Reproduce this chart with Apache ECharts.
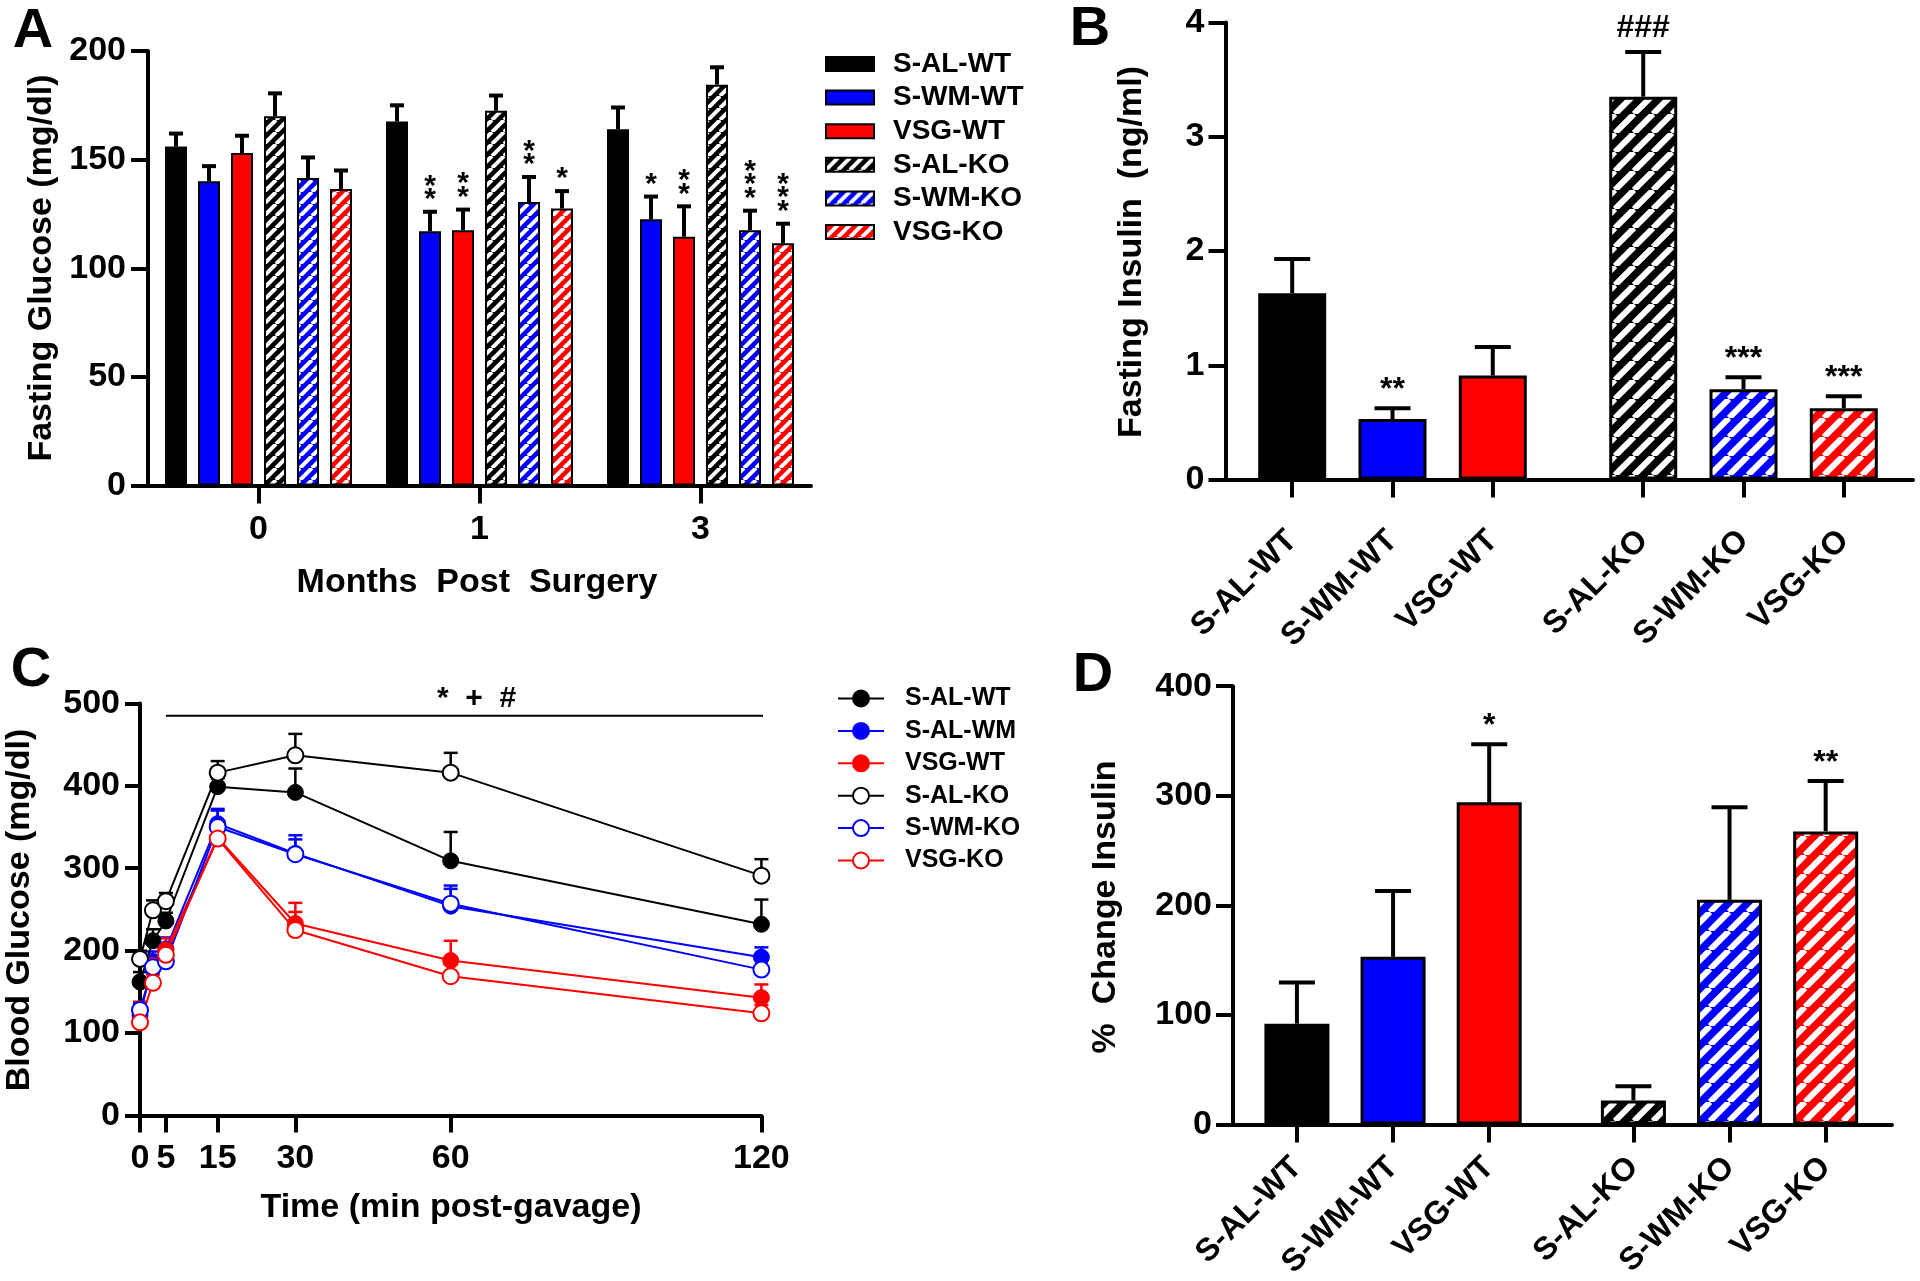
<!DOCTYPE html>
<html>
<head>
<meta charset="utf-8">
<title>Glucose / insulin panels</title>
<script src="https://cdn.jsdelivr.net/npm/echarts@6/dist/echarts.min.js"></script>
<style>
html, body { margin: 0; padding: 0; background: #fff; }
.panel { position: absolute; left: 0; top: 0; width: 1920px; height: 1281px; }
</style>
</head>
<body>
<div id="pa" class="panel"></div>
<div id="pb" class="panel"></div>
<div id="pc" class="panel"></div>
<div id="pd" class="panel"></div>
<script>
// ---- A: fasting glucose (mg/dl) by months post surgery
var months = ['0', '1', '3'];
var groupNames = ['S-AL-WT', 'S-WM-WT', 'VSG-WT', 'S-AL-KO', 'S-WM-KO', 'VSG-KO'];
var glcSalWt = [156, 167.5, 164];
var glcSwmWt = [140, 117, 122.5];
var glcVsgWt = [153, 117.5, 114.5];
var glcSalKo = [170, 172.5, 184.5];
var glcSwmKo = [141.5, 130.5, 117.5];
var glcVsgKo = [136.5, 127.5, 111.5];
var glcErrSalWt = [6, 7.5, 10];
var glcErrSwmWt = [7, 9, 10.5];
var glcErrVsgWt = [8, 9.5, 14];
var glcErrSalKo = [10.5, 7, 8];
var glcErrSwmKo = [9.5, 11.5, 9];
var glcErrVsgKo = [8.5, 8, 9];
var glcStarsSwmWt = ['', '**', '*'];
var glcStarsVsgWt = ['', '**', '**'];
var glcStarsSwmKo = ['', '**', '***'];
var glcStarsVsgKo = ['', '*', '***'];

// ---- B: fasting insulin (ng/ml)
var insulin = [1.63, 0.53, 0.91, 3.35, 0.79, 0.625];
var insulinErr = [0.30, 0.095, 0.25, 0.39, 0.105, 0.105];
var insulinMarks = ['', '**', '', '###', '***', '***'];

// ---- C: blood glucose (mg/dl) over time
var times = [0, 2.5, 5, 15, 30, 60, 120];
var timeTicks = [0, 5, 15, 30, 60, 120];
var lineNames = ['S-AL-WT', 'S-AL-WM', 'VSG-WT', 'S-AL-KO', 'S-WM-KO', 'VSG-KO'];
var bgSalWt = [162, 212, 236, 399, 392, 309, 232];
var bgSalWm = [121, 187, 202, 354, 318, 254, 192];
var bgVsgWt = [127, 182, 201, 337, 233, 188, 143];
var bgSalKo = [190, 249, 260, 416, 437, 416, 291];
var bgSwmKo = [128, 180, 187, 350, 317, 257, 177];
var bgVsgKo = [113, 161, 195, 336, 225, 169, 124];
var bgErrSalWt = [12, 14, 10, 10, 29, 35, 30];
var bgErrSalWm = [10, 12, 14, 18, 22, 25, 12];
var bgErrVsgWt = [11, 12, 14, 20, 25, 24, 16];
var bgErrSalKo = [10, 12, 10, 14, 26, 24, 20];
var bgErrSwmKo = [8, 10, 12, 20, 18, 18, 12];
var bgErrVsgKo = [9, 10, 12, 18, 22, 14, 10];
// significance bar over the curves (time span, level)
var sigSpan = [5, 65, 122.7];
var sigLevel = 485;
var sigText = '*  +  #';

// ---- D: % change insulin
var pctChange = [92, 153, 294, 22, 205, 267.5];
var pctChangeErr = [37.5, 60, 53, 13, 84.5, 46];
var pctMarks = ['', '', '*', '', '', '**'];

// layout: x slot of each bar in B and D (gap between WT and KO groups)
var slotX = [0, 1, 2, 3.5, 4.5, 5.5];

var FONT = "'Liberation Sans', Arial, sans-serif";
var BLACK = '#000000', BLUE = '#0000ff', RED = '#ff0000';

function hatch(color, size, stripe) {
  var c = document.createElement('canvas');
  c.width = size; c.height = size;
  var g = c.getContext('2d');
  g.fillStyle = color;
  g.fillRect(0, 0, size, size);
  g.strokeStyle = '#ffffff';
  g.lineWidth = stripe;
  g.beginPath();
  for (var k = -1; k <= 1; k++) {
    g.moveTo(k * size, size);
    g.lineTo(k * size + size, 0);
  }
  g.stroke();
  return { image: c, repeat: 'repeat' };
}

function txt(x, y, text, size, rot) {
  return {
    type: 'text', x: x, y: y, rotation: rot || 0,
    style: { text: text, fontFamily: FONT, fontWeight: 'bold', fontSize: size, fill: '#000', align: 'center', verticalAlign: 'middle' }
  };
}

function axisBase() {
  return {
    axisLine: { show: true, onZero: false, lineStyle: { color: '#000', width: 4 } },
    axisTick: { show: true, length: 17, lineStyle: { color: '#000', width: 4 } },
    axisLabel: { color: '#000', fontFamily: FONT, fontWeight: 'bold', fontSize: 34 },
    splitLine: { show: false }
  };
}

function merge(a, b) {
  for (var k in b) {
    if (b[k] && typeof b[k] === 'object' && !Array.isArray(b[k]) && a[k]) merge(a[k], b[k]);
    else a[k] = b[k];
  }
  return a;
}

// ================= A =================
var glcMeans = [glcSalWt, glcSwmWt, glcVsgWt, glcSalKo, glcSwmKo, glcVsgKo];
var glcErrs = [glcErrSalWt, glcErrSwmWt, glcErrVsgWt, glcErrSalKo, glcErrSwmKo, glcErrVsgKo];
var glcStars = [['', '', ''], glcStarsSwmWt, glcStarsVsgWt, ['', '', ''], glcStarsSwmKo, glcStarsVsgKo];
var fillA = [BLACK, BLUE, RED, hatch(BLACK, 12, 4), hatch(BLUE, 12, 4), hatch(RED, 12, 4)];
var barStepA = 33;

function errA(i) {
  return function (params, api) {
    var x = api.coord([api.value(0), 0])[0] + (i - 2.5) * barStepA;
    var y0 = api.coord([api.value(0), api.value(1)])[1];
    var y1 = api.coord([api.value(0), api.value(2)])[1];
    var kids = [
      { type: 'line', shape: { x1: x, y1: y0, x2: x, y2: y1 }, style: { stroke: '#000', lineWidth: 4 } },
      { type: 'line', shape: { x1: x - 7, y1: y1, x2: x + 7, y2: y1 }, style: { stroke: '#000', lineWidth: 4 } }
    ];
    var s = glcStars[i][params.dataIndex];
    for (var k = 0; k < s.length; k++) {
      kids.push({
        type: 'text', x: x, y: y1 - 19 - k * 13.5 + 7,
        style: { text: '*', fontFamily: FONT, fontWeight: 'bold', fontSize: 30, fill: '#000', align: 'center', verticalAlign: 'middle' }
      });
    }
    return { type: 'group', children: kids };
  };
}

var seriesA = [];
groupNames.forEach(function (name, i) {
  seriesA.push({
    type: 'bar', name: name, data: glcMeans[i], barWidth: 22, barGap: '50%', z: 2,
    itemStyle: { color: fillA[i], borderColor: '#000', borderWidth: 2 }
  });
});
groupNames.forEach(function (name, i) {
  seriesA.push({
    type: 'custom', z: 3, silent: true,
    data: glcMeans[i].map(function (m, j) { return [j, m, m + glcErrs[i][j]]; }),
    renderItem: errA(i)
  });
});

var optionA = {
  animation: false,
  grid: { left: 148, top: 51, width: 663, height: 434.5, outerBoundsMode: 'none' },
  xAxis: merge(axisBase(), {
    type: 'category', data: months,
    axisTick: { alignWithLabel: true, length: 18 },
    axisLabel: { margin: 27 }
  }),
  yAxis: merge(axisBase(), {
    type: 'value', min: 0, max: 200, interval: 50,
    axisLabel: { margin: 22 }
  }),
  legend: {
    orient: 'vertical', left: 820, top: 45, icon: 'rect',
    itemWidth: 48, itemHeight: 14, itemGap: 5.6, selectedMode: false,
    data: groupNames,
    textStyle: { color: '#000', fontFamily: FONT, fontWeight: 'bold', fontSize: 28, lineHeight: 28, padding: [0, 0, 0, 14] }
  },
  graphic: [
    txt(33, 32, 'A', 56),
    txt(42, 268, 'Fasting Glucose (mg/dl)', 34, Math.PI / 2),
    txt(477, 583, 'Months  Post  Surgery', 34)
  ],
  series: seriesA
};

// ================= B and D =================
var fillBD = [BLACK, BLUE, RED, hatch(BLACK, 19, 6), hatch(BLUE, 19, 6), hatch(RED, 19, 6)];

function barPanel(means, errs, marks, grid, yMax, yInt, barW, labelMargin, graphic) {
  grid.outerBoundsMode = 'none';
  return {
    animation: false,
    grid: grid,
    xAxis: merge(axisBase(), {
      type: 'value', min: -0.665, max: 6.19,
      axisTick: { customValues: slotX, length: 18 },
      axisLabel: {
        customValues: slotX, rotate: 45, fontSize: 32, margin: labelMargin,
        formatter: function (v) { return groupNames[slotX.indexOf(v)] || ''; }
      }
    }),
    yAxis: merge(axisBase(), {
      type: 'value', min: 0, max: yMax, interval: yInt,
      axisLabel: { margin: 21 }
    }),
    graphic: graphic,
    series: [
      {
        type: 'bar', barWidth: barW, z: 2,
        itemStyle: { borderColor: '#000', borderWidth: 3 },
        data: slotX.map(function (x, i) {
          return { value: [x, means[i]], itemStyle: { color: fillBD[i] } };
        })
      },
      {
        type: 'custom', z: 3, silent: true,
        data: slotX.map(function (x, i) { return [x, means[i], means[i] + errs[i]]; }),
        renderItem: function (params, api) {
          var p0 = api.coord([api.value(0), api.value(1)]);
          var p1 = api.coord([api.value(0), api.value(2)]);
          var x = p0[0];
          var kids = [
            { type: 'line', shape: { x1: x, y1: p0[1], x2: x, y2: p1[1] }, style: { stroke: '#000', lineWidth: 4 } },
            { type: 'line', shape: { x1: x - 18, y1: p1[1], x2: x + 18, y2: p1[1] }, style: { stroke: '#000', lineWidth: 4 } }
          ];
          var m = marks[params.dataIndex];
          if (m) {
            kids.push({
              type: 'text', x: x, y: p1[1] - (m.charAt(0) === '#' ? 8 : 2),
              style: { text: m, fontFamily: FONT, fontWeight: 'bold', fontSize: 32, fill: '#000', align: 'center', verticalAlign: 'bottom' }
            });
          }
          return { type: 'group', children: kids };
        }
      }
    ]
  };
}

var optionB = barPanel(insulin, insulinErr, insulinMarks,
  { left: 1225.5, top: 22.4, width: 687.5, height: 457.2 }, 4, 1, 68, 56,
  [txt(1090, 30, 'B', 56), txt(1132, 252, 'Fasting Insulin  (ng/ml)', 34, Math.PI / 2)]);

var optionD = barPanel(pctChange, pctChangeErr, pctMarks,
  { left: 1233, top: 686.2, width: 659, height: 438.3 }, 400, 100, 65, 38,
  [txt(1093, 676, 'D', 56), txt(1106, 907, '%  Change Insulin', 34, Math.PI / 2)]);

// ================= C =================
var bgMeans = [bgSalWt, bgSalWm, bgVsgWt, bgSalKo, bgSwmKo, bgVsgKo];
var bgErrs = [bgErrSalWt, bgErrSalWm, bgErrVsgWt, bgErrSalKo, bgErrSwmKo, bgErrVsgKo];
var lineColors = [BLACK, BLUE, RED, BLACK, BLUE, RED];
var lineOpen = [false, false, false, true, true, true];

var seriesC = [];
lineNames.forEach(function (name, i) {
  var c = lineColors[i];
  seriesC.push({
    type: 'custom', z: 1, silent: true,
    data: times.map(function (t, j) { return [t, bgMeans[i][j], bgMeans[i][j] + bgErrs[i][j]]; }),
    renderItem: function (params, api) {
      var p0 = api.coord([api.value(0), api.value(1)]);
      var p1 = api.coord([api.value(0), api.value(2)]);
      return {
        type: 'group', children: [
          { type: 'line', shape: { x1: p0[0], y1: p0[1], x2: p0[0], y2: p1[1] }, style: { stroke: c, lineWidth: 2.5 } },
          { type: 'line', shape: { x1: p0[0] - 7, y1: p1[1], x2: p0[0] + 7, y2: p1[1] }, style: { stroke: c, lineWidth: 2.5 } }
        ]
      };
    }
  });
});
lineNames.forEach(function (name, i) {
  var c = lineColors[i];
  seriesC.push({
    type: 'line', name: name, z: 2,
    data: times.map(function (t, j) { return [t, bgMeans[i][j]]; }),
    symbol: 'circle', symbolSize: 16, showAllSymbol: true,
    lineStyle: { color: c, width: 2 },
    itemStyle: lineOpen[i] ? { color: '#ffffff', borderColor: c, borderWidth: 2 } : { color: c, borderColor: c, borderWidth: 1 }
  });
});
// significance bar
seriesC.push({
  type: 'line', clip: false, silent: true, z: 2,
  symbol: 'circle', symbolSize: 1, showAllSymbol: true,
  lineStyle: { color: '#000', width: 2 },
  itemStyle: { color: 'rgba(0,0,0,0)' },
  data: sigSpan.map(function (t, j) {
    var d = { value: [t, sigLevel] };
    if (j === 1) {
      d.label = {
        show: true, position: 'top', distance: 2, formatter: sigText,
        color: '#000', fontFamily: FONT, fontWeight: 'bold', fontSize: 30
      };
    }
    return d;
  })
});

var optionC = {
  animation: false,
  grid: { left: 140, top: 703.4, width: 621.4, height: 412.1, outerBoundsMode: 'none' },
  xAxis: merge(axisBase(), {
    type: 'value', min: 0, max: 120,
    axisTick: { customValues: timeTicks, length: 17 },
    axisLabel: { customValues: timeTicks, margin: 26 }
  }),
  yAxis: merge(axisBase(), {
    type: 'value', min: 0, max: 500, interval: 100,
    axisTick: { length: 15 },
    axisLabel: { margin: 20 }
  }),
  legend: {
    orient: 'vertical', left: 832, top: 681,
    itemWidth: 46, itemHeight: 20, itemGap: 7.4, selectedMode: false,
    data: lineNames,
    textStyle: { color: '#000', fontFamily: FONT, fontWeight: 'bold', fontSize: 25, lineHeight: 25, padding: [0, 0, 0, 16] }
  },
  graphic: [
    txt(31, 671, 'C', 56),
    txt(20, 910, 'Blood Glucose (mg/dl)', 34, Math.PI / 2),
    txt(451, 1208, 'Time (min post-gavage)', 34)
  ],
  series: seriesC
};

echarts.init(document.getElementById('pa')).setOption(optionA);
echarts.init(document.getElementById('pb')).setOption(optionB);
echarts.init(document.getElementById('pc')).setOption(optionC);
echarts.init(document.getElementById('pd')).setOption(optionD);
</script>
</body>
</html>
